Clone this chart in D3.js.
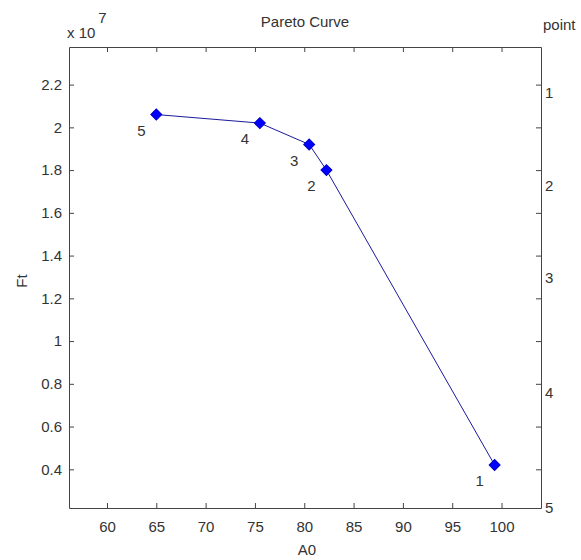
<!DOCTYPE html>
<html>
<head>
<meta charset="utf-8">
<script src="https://cdn.jsdelivr.net/npm/d3@7"></script>
<style>
  body { margin: 0; background: #fff; }
  text { font-family: 'Liberation Sans', Arial, sans-serif; fill: #333; }
</style>
</head>
<body>
<svg width="581" height="560"></svg>
<script>
// A0 values and Ft values (x 10^7) for each Pareto point
const points = ['1', '2', '3', '4', '5'];
const a0 = [99.3, 82.25, 80.5, 75.5, 65.0];
const ft = [0.42, 1.80, 1.92, 2.02, 2.06];
const xTicks = [60, 65, 70, 75, 80, 85, 90, 95, 100];
const yTicks = [0.4, 0.6, 0.8, 1.0, 1.2, 1.4, 1.6, 1.8, 2.0, 2.2];
// right-hand "point" labels, placed at these Ft values
const pointLabels = ['1', '2', '3', '4', '5'];
const pointLabelAt = [2.16, 1.725, 1.295, 0.757, 0.222];

const svg = d3.select('svg');
const width = +svg.attr('width');
const height = +svg.attr('height');
const margin = { top: 47, right: 40, bottom: 52, left: 69 };
const innerWidth = width - margin.left - margin.right;
const innerHeight = height - margin.top - margin.bottom;

const xScale = d3.scaleLinear().domain([56.15, 104]).range([0, innerWidth]);
const yScale = d3.scaleLinear().domain([0.219, 2.376]).range([innerHeight, 0]);

const g = svg.append('g')
  .attr('transform', `translate(${margin.left}, ${margin.top})`);

const fmt = (d) => d3.format('')(+d.toFixed(1));

g.append('g')
  .attr('transform', `translate(0, ${innerHeight})`)
  .call(d3.axisBottom(xScale).tickValues(xTicks).tickSize(-5).tickPadding(13).tickSizeOuter(0))
  .attr('font-size', 15);

g.append('g')
  .call(d3.axisLeft(yScale).tickValues(yTicks).tickSize(-5).tickPadding(7).tickSizeOuter(0).tickFormat(fmt))
  .attr('font-size', 15);

g.append('g')
  .call(d3.axisTop(xScale).tickValues(xTicks).tickSize(-5).tickSizeOuter(0))
  .selectAll('.tick text').remove();

g.append('g')
  .attr('transform', `translate(${innerWidth}, 0)`)
  .call(d3.axisRight(yScale).tickValues(yTicks).tickSize(-5).tickSizeOuter(0))
  .selectAll('.tick text').remove();

g.selectAll('.domain').attr('stroke', '#444');
g.selectAll('.tick line').attr('stroke', '#444');
g.selectAll('.tick text').attr('fill', '#333').attr('font-family', "'Liberation Sans', Arial, sans-serif");

// right side point labels
g.selectAll('.plabel')
  .data(pointLabels)
  .enter()
  .append('text')
  .attr('class', 'plabel')
  .attr('x', innerWidth + 4)
  .attr('y', (d, i) => yScale(pointLabelAt[i]))
  .attr('dy', '0.35em')
  .attr('font-size', 15)
  .text((d) => d);

// curve
const data = points.map((p, i) => ({ p, x: a0[i], y: ft[i] }));
g.append('path')
  .datum(data)
  .attr('fill', 'none')
  .attr('stroke', '#1a1a9a')
  .attr('stroke-width', 1)
  .attr('d', d3.line().x((d) => xScale(d.x)).y((d) => yScale(d.y)));

g.selectAll('.marker')
  .data(data)
  .enter()
  .append('path')
  .attr('class', 'marker')
  .attr('d', d3.symbol(d3.symbolSquare, 60))
  .attr('transform', (d) => `translate(${xScale(d.x)}, ${yScale(d.y)}) rotate(45)`)
  .attr('fill', '#0000ff')
  .attr('stroke', '#0000c8')
  .attr('stroke-width', 1);

g.selectAll('.dlabel')
  .data(data)
  .enter()
  .append('text')
  .attr('class', 'dlabel')
  .attr('x', (d) => xScale(d.x) - 15)
  .attr('y', (d) => yScale(d.y) + 16)
  .attr('dy', '0.35em')
  .attr('text-anchor', 'middle')
  .attr('font-size', 15)
  .text((d) => d.p);

// titles
svg.append('text')
  .attr('x', margin.left + innerWidth / 2)
  .attr('y', 27)
  .attr('text-anchor', 'middle')
  .attr('font-size', 15)
  .text('Pareto Curve');

svg.append('text')
  .attr('x', 307)
  .attr('y', 555)
  .attr('text-anchor', 'middle')
  .attr('font-size', 15)
  .text('A0');

svg.append('text')
  .attr('transform', 'translate(27, 281) rotate(-90)')
  .attr('text-anchor', 'middle')
  .attr('font-size', 15)
  .text('Ft');

svg.append('text')
  .attr('x', 543)
  .attr('y', 30)
  .attr('font-size', 15)
  .text('point');

const exp = svg.append('text')
  .attr('x', 67)
  .attr('y', 38)
  .attr('font-size', 15);
exp.append('tspan').text('x 10');
exp.append('tspan').attr('dx', 3).attr('dy', -15).text('7');
</script>
</body>
</html>
